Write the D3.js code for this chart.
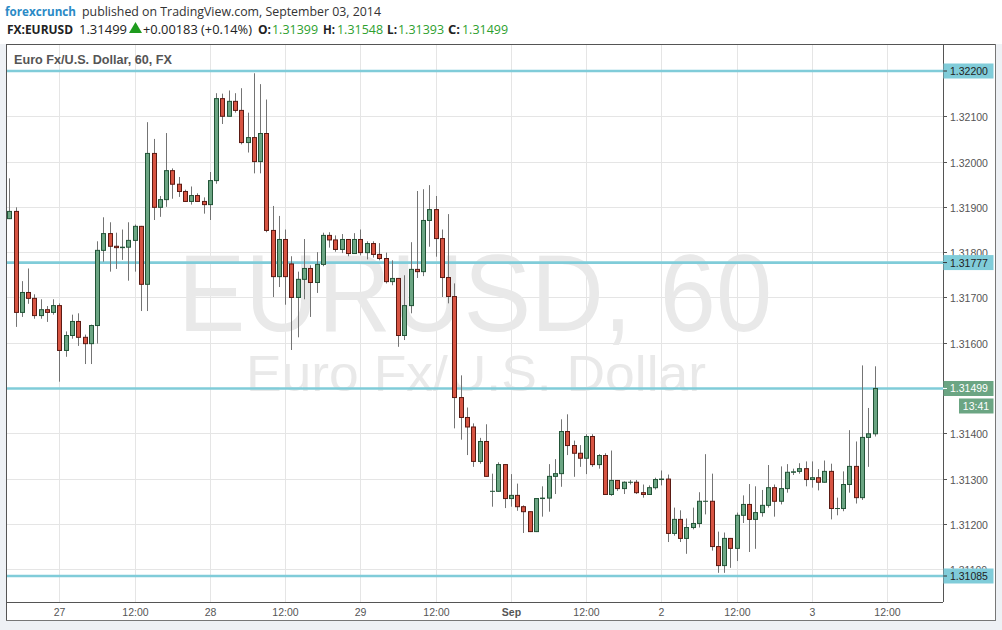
<!DOCTYPE html>
<html><head><meta charset="utf-8">
<script src="https://cdn.jsdelivr.net/npm/d3@7"></script>
<style>
html,body{margin:0;padding:0;background:#eef1f5;}
svg{display:block;}
</style></head><body>
<svg id="chart" width="1002" height="630"></svg>
<script>
// ---------------- DATA ----------------
const openP  = [1.31874,1.31890,1.31667,1.31711,1.31698,1.31660,1.31673,1.31667,1.31682,1.31583,
1.31616,1.31647,1.31612,1.31598,1.31638,1.31804,1.31841,1.31813,1.31810,1.31811,
1.31826,1.31857,1.31729,1.32018,1.31899,1.31916,1.31980,1.31950,1.31934,1.31912,
1.31925,1.31912,1.31905,1.31958,1.32139,1.32100,1.32133,1.32113,1.32042,1.32053,
1.32000,1.32062,1.31848,1.31746,1.31828,1.31774,1.31700,1.31740,1.31764,1.31733,
1.31773,1.31837,1.31827,1.31806,1.31828,1.31797,1.31828,1.31799,1.31819,1.31795,
1.31786,1.31735,1.31742,1.31616,1.31682,1.31762,1.31757,1.31870,1.31894,1.31830,
1.31744,1.31702,1.31479,1.31435,1.31414,1.31338,1.31382,1.31272,1.31272,1.31331,
1.31256,1.31263,1.31238,1.31227,1.31183,1.31256,1.31257,1.31305,1.31311,1.31404,
1.31373,1.31356,1.31345,1.31393,1.31331,1.31351,1.31265,1.31296,1.31278,1.31292,
1.31292,1.31269,1.31265,1.31280,1.31298,1.31299,1.31179,1.31210,1.31168,1.31192,
1.31201,1.31250,1.31250,1.31150,1.31108,1.31168,1.31146,1.31219,1.31243,1.31210,
1.31225,1.31241,1.31280,1.31250,1.31278,1.31314,1.31316,1.31322,1.31298,1.31302,
1.31292,1.31316,1.31234,1.31234,1.31287,1.31327,1.31258,1.31391,1.31399];
const highP  = [1.31963,1.31899,1.31736,1.31764,1.31707,1.31696,1.31681,1.31696,1.31687,1.31625,
1.31662,1.31665,1.31618,1.31640,1.31824,1.31877,1.31866,1.31843,1.31850,1.31866,
1.31861,1.31858,1.32087,1.32050,1.31924,1.32063,1.31985,1.31966,1.31938,1.31945,
1.31930,1.31921,1.31977,1.32151,1.32150,1.32157,1.32151,1.32162,1.32108,1.32195,
1.32171,1.32137,1.31902,1.31880,1.31850,1.31791,1.31757,1.31829,1.31771,1.31800,
1.31843,1.31844,1.31837,1.31840,1.31829,1.31842,1.31850,1.31824,1.31824,1.31820,
1.31799,1.31782,1.31743,1.31749,1.31822,1.31935,1.31939,1.31948,1.31924,1.31850,
1.31884,1.31731,1.31528,1.31457,1.31422,1.31390,1.31420,1.31311,1.31336,1.31332,
1.31310,1.31289,1.31241,1.31228,1.31256,1.31283,1.31332,1.31343,1.31431,1.31442,
1.31384,1.31374,1.31398,1.31398,1.31354,1.31356,1.31362,1.31297,1.31294,1.31297,
1.31297,1.31287,1.31285,1.31302,1.31318,1.31309,1.31236,1.31230,1.31212,1.31236,
1.31270,1.31354,1.31311,1.31183,1.31181,1.31169,1.31225,1.31263,1.31288,1.31283,
1.31275,1.31330,1.31287,1.31327,1.31332,1.31322,1.31334,1.31338,1.31338,1.31321,
1.31340,1.31333,1.31258,1.31316,1.31407,1.31382,1.31550,1.31456,1.31548];
const lowP   = [1.31873,1.31635,1.31657,1.31686,1.31653,1.31653,1.31646,1.31662,1.31514,1.31569,
1.31609,1.31593,1.31553,1.31553,1.31598,1.31779,1.31757,1.31763,1.31783,1.31737,
1.31757,1.31670,1.31670,1.31871,1.31878,1.31900,1.31918,1.31922,1.31911,1.31905,
1.31911,1.31885,1.31871,1.31951,1.32083,1.32100,1.32108,1.32038,1.32020,1.31974,
1.31974,1.31844,1.31701,1.31723,1.31684,1.31584,1.31612,1.31696,1.31657,1.31710,
1.31769,1.31810,1.31801,1.31798,1.31791,1.31796,1.31793,1.31784,1.31788,1.31782,
1.31731,1.31727,1.31591,1.31606,1.31665,1.31743,1.31747,1.31812,1.31790,1.31701,
1.31687,1.31411,1.31386,1.31352,1.31326,1.31333,1.31304,1.31238,1.31271,1.31235,
1.31238,1.31229,1.31180,1.31182,1.31182,1.31216,1.31227,1.31266,1.31282,1.31352,
1.31304,1.31326,1.31310,1.31326,1.31322,1.31265,1.31262,1.31273,1.31266,1.31287,
1.31266,1.31258,1.31264,1.31276,1.31285,1.31160,1.31174,1.31160,1.31134,1.31188,
1.31192,1.31221,1.31141,1.31092,1.31092,1.31103,1.31118,1.31202,1.31138,1.31145,
1.31216,1.31236,1.31216,1.31243,1.31269,1.31308,1.31311,1.31283,1.31280,1.31274,
1.31291,1.31210,1.31219,1.31228,1.31269,1.31245,1.31253,1.31326,1.31393];
const closeP = [1.31890,1.31667,1.31711,1.31698,1.31660,1.31673,1.31667,1.31682,1.31583,1.31616,
1.31647,1.31612,1.31598,1.31638,1.31804,1.31841,1.31813,1.31810,1.31811,1.31826,
1.31857,1.31729,1.32018,1.31899,1.31916,1.31980,1.31950,1.31934,1.31912,1.31925,
1.31912,1.31905,1.31958,1.32139,1.32100,1.32133,1.32113,1.32042,1.32053,1.32000,
1.32062,1.31848,1.31746,1.31828,1.31746,1.31700,1.31740,1.31764,1.31733,1.31773,
1.31837,1.31827,1.31806,1.31828,1.31797,1.31828,1.31799,1.31819,1.31795,1.31786,
1.31735,1.31742,1.31616,1.31682,1.31762,1.31757,1.31870,1.31894,1.31830,1.31744,
1.31702,1.31479,1.31435,1.31414,1.31338,1.31382,1.31305,1.31272,1.31331,1.31256,
1.31263,1.31238,1.31227,1.31183,1.31256,1.31257,1.31305,1.31311,1.31404,1.31373,
1.31356,1.31345,1.31393,1.31331,1.31351,1.31265,1.31296,1.31278,1.31292,1.31292,
1.31269,1.31265,1.31280,1.31298,1.31299,1.31179,1.31210,1.31168,1.31192,1.31201,
1.31250,1.31250,1.31150,1.31108,1.31168,1.31146,1.31219,1.31243,1.31210,1.31225,
1.31241,1.31280,1.31250,1.31278,1.31314,1.31315,1.31322,1.31298,1.31302,1.31292,
1.31316,1.31234,1.31234,1.31287,1.31327,1.31258,1.31391,1.31399,1.31499];

// time axis: bar index of each label
const xTickIndex = [8,20,32,44,56,68,80,92,104,116,128,140];
const xTickLabel = ["27","12:00","28","12:00","29","12:00","Sep","12:00","2","12:00","3","12:00"];
const xTickBold  = [false,false,false,false,false,false,true,false,false,false,false,false];

const yTickValues = [1.311,1.312,1.313,1.314,1.315,1.316,1.317,1.318,1.319,1.320,1.321];
const levelValues = [1.32200,1.31777,1.31499,1.31085];
const lastPrice = 1.31499;
const countdown = "13:41";

const symbolText = "FX:EURUSD";
const headerPrice = "1.31499";
const headerChange = "+0.00183 (+0.14%)";
const ohlcLabels = ["O:","H:","L:","C:"];
const ohlcValues = ["1.31399","1.31548","1.31393","1.31499"];
const chartTitle = "Euro Fx/U.S. Dollar, 60, FX";
const watermark1 = "EURUSD, 60";
const watermark2 = "Euro Fx/U.S. Dollar";

// ---------------- LAYOUT ----------------
const P = {left:6, right:943, top:44, bottom:602, outerRight:996, outerBottom:621};
const svg = d3.select("#chart");
const FONT = "'Liberation Sans', Arial, sans-serif";
const HFONT = "'Open Sans', 'Noto Sans', sans-serif";

const x = d3.scaleLinear().domain([0, openP.length-1]).range([9.3, 9.3 + 6.27*(openP.length-1)]);
const y = d3.scaleLinear().domain([1.31085, 1.322]).range([576, 71]);

// backgrounds
svg.append("rect").attr("x",0).attr("y",0).attr("width",1002).attr("height",P.top).attr("fill","#ffffff");
svg.append("rect").attr("x",P.left).attr("y",P.top).attr("width",P.outerRight-P.left).attr("height",P.outerBottom-P.top).attr("fill","#ffffff");

// header
const hdr = svg.append("g").attr("font-family",HFONT).attr("font-size",13);
function htext(xp, yp, txt, len, fill, bold){
  return hdr.append("text").attr("x",xp).attr("y",yp).attr("fill",fill)
    .attr("font-weight",bold?"bold":"normal")
    .attr("textLength",len).attr("lengthAdjust","spacingAndGlyphs").text(txt);
}
htext(5,16,"forexcrunch",71,"#2b8ac6",true);
htext(82,16,"published on TradingView.com, September 03, 2014",299,"#333",false);
htext(7,34,symbolText,66,"#222",true);
htext(79,34,headerPrice,48,"#222",false);
hdr.append("path").attr("d","M129,33 L142,33 L135.5,22 Z").attr("fill","#1e9b1e");
htext(143,34,headerChange,109,"#222",false);
const ohlcX = [258,323,387,448], ohlcLX = [13,12,10,12], ohlcVX = [272,337,398,462];
ohlcLabels.forEach((l,i)=>{
  htext(ohlcX[i],34,l,ohlcLX[i],"#222",true);
  htext(ohlcVX[i],34,ohlcValues[i],46,"#2ea02e",false);
});

// clip for plot
svg.append("clipPath").attr("id","plotclip").append("rect")
  .attr("x",P.left).attr("y",P.top).attr("width",P.right-P.left).attr("height",P.bottom-P.top);

const plot = svg.append("g").attr("clip-path","url(#plotclip)");

// grid
plot.append("g").selectAll("line").data(yTickValues).join("line")
  .attr("x1",P.left).attr("x2",P.right)
  .attr("y1",d=>Math.round(y(d))+0.5).attr("y2",d=>Math.round(y(d))+0.5)
  .attr("stroke","#e5e5e5").attr("stroke-width",1);
plot.append("g").selectAll("line").data(xTickIndex).join("line")
  .attr("y1",P.top).attr("y2",P.bottom)
  .attr("x1",d=>Math.round(x(d))+0.5).attr("x2",d=>Math.round(x(d))+0.5)
  .attr("stroke","#e5e5e5").attr("stroke-width",1);

// watermark
const cx = (P.left+P.right)/2;
plot.append("text").attr("x",178).attr("y",331)
  .attr("font-family",FONT).attr("font-size",110).attr("fill","#e9e9e9")
  .attr("textLength",594).attr("lengthAdjust","spacingAndGlyphs").text(watermark1);
plot.append("text").attr("x",246).attr("y",391)
  .attr("font-family",FONT).attr("font-size",50).attr("fill","#e9e9e9")
  .attr("textLength",460).attr("lengthAdjust","spacingAndGlyphs").text(watermark2);

// level lines
plot.append("g").selectAll("line").data(levelValues).join("line")
  .attr("x1",P.left).attr("x2",P.right)
  .attr("y1",d=>y(d)).attr("y2",d=>y(d))
  .attr("stroke","#80ccd9").attr("stroke-width",2.6);

// candles
const bars = d3.range(openP.length).map(i=>({i,o:openP[i],h:highP[i],l:lowP[i],c:closeP[i]}));
const cg = plot.append("g");
cg.selectAll("line.wick").data(bars).join("line").attr("class","wick")
  .attr("x1",d=>Math.round(x(d.i))+0.5).attr("x2",d=>Math.round(x(d.i))+0.5)
  .attr("y1",d=>y(d.h)).attr("y2",d=>y(d.l))
  .attr("stroke","#747474").attr("stroke-width",1);
cg.selectAll("rect.body").data(bars).join("rect").attr("class","body")
  .attr("x",d=>Math.round(x(d.i))-1.5).attr("width",4)
  .attr("y",d=>y(Math.max(d.o,d.c))).attr("height",d=>Math.max(0.01,Math.abs(y(d.o)-y(d.c))))
  .attr("fill",d=>d.c>=d.o?"#6ba583":"#d75442")
  .attr("stroke",d=>d.c>=d.o?"#225437":"#5b1a13").attr("stroke-width",1);

// chart title
svg.append("text").attr("x",14).attr("y",64).attr("font-family",FONT).attr("font-size",12)
  .attr("font-weight","bold").attr("fill","#555")
  .attr("textLength",158).attr("lengthAdjust","spacingAndGlyphs").text(chartTitle);

// frame
const frame = svg.append("g").attr("stroke","#555").attr("stroke-width",1).attr("fill","none");
frame.append("line").attr("x1",P.left+0.5).attr("x2",P.left+0.5).attr("y1",P.top).attr("y2",P.outerBottom);
frame.append("line").attr("x1",P.left).attr("x2",P.outerRight).attr("y1",P.top+0.5).attr("y2",P.top+0.5);
frame.append("line").attr("x1",P.left).attr("x2",P.right).attr("y1",P.bottom+0.5).attr("y2",P.bottom+0.5);
frame.append("line").attr("x1",P.right+0.5).attr("x2",P.right+0.5).attr("y1",P.top).attr("y2",P.bottom);
frame.append("line").attr("x1",P.outerRight-0.5).attr("x2",P.outerRight-0.5).attr("y1",P.top).attr("y2",P.outerBottom).attr("stroke","#777");
frame.append("line").attr("x1",P.left).attr("x2",P.outerRight).attr("y1",P.outerBottom-0.5).attr("y2",P.outerBottom-0.5).attr("stroke","#777");

// price axis
const ya = svg.append("g").attr("font-family",FONT).attr("font-size",10.5).attr("fill","#555");
yTickValues.forEach(v=>{
  const yy = Math.round(y(v))+0.5;
  ya.append("line").attr("x1",P.right).attr("x2",P.right+4).attr("y1",yy).attr("y2",yy).attr("stroke","#555");
  ya.append("text").attr("x",P.right+7).attr("y",yy+4).text(v.toFixed(5));
});

// level labels
levelValues.forEach(v=>{
  const isLast = v===lastPrice;
  const yy = y(v);
  svg.append("line").attr("x1",P.right).attr("x2",P.right+1).attr("y1",yy).attr("y2",yy).attr("stroke","#80ccd9").attr("stroke-width",2.6);
  svg.append("rect").attr("x",P.right+0.5).attr("y",yy-7.5).attr("width",50).attr("height",15)
    .attr("fill",isLast?"#6ba583":"#80ccd9");
  svg.append("line").attr("x1",P.right).attr("x2",P.right+4).attr("y1",yy).attr("y2",yy).attr("stroke",isLast?"#fff":"#333");
  svg.append("text").attr("x",P.right+7).attr("y",yy+4).attr("font-family",FONT).attr("font-size",10.5)
    .attr("fill",isLast?"#ffffff":"#222").text(v.toFixed(5));
});
// countdown
const yl = y(lastPrice);
svg.append("rect").attr("x",959).attr("y",yl+10).attr("width",34.5).attr("height",15).attr("fill","#6ba583");
svg.append("text").attr("x",976).attr("y",yl+21.5).attr("text-anchor","middle").attr("font-family",FONT)
  .attr("font-size",10.5).attr("fill","#fff").text(countdown);

// time axis
const xa = svg.append("g").attr("font-family",FONT).attr("font-size",10.5).attr("fill","#555").attr("text-anchor","middle");
xTickIndex.forEach((idx,k)=>{
  xa.append("text").attr("x",Math.round(x(idx))+0.5).attr("y",616)
    .attr("font-weight",xTickBold[k]?"bold":"normal").text(xTickLabel[k]);
});
</script>
</body></html>
